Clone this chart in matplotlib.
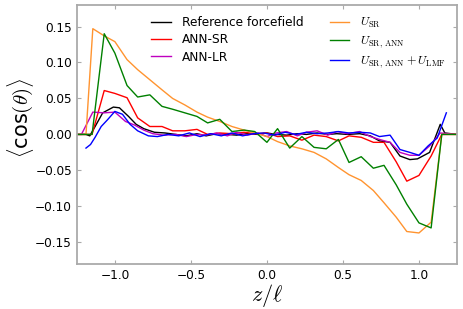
import numpy as np
import matplotlib
matplotlib.use('Agg')
import matplotlib.pyplot as plt

plt.rcParams['mathtext.fontset'] = 'cm'

# coarse grid used by orange / green / red curves
z_coarse = [-1.25, -1.15, -1.07, -1.0, -0.92, -0.85, -0.77, -0.69, -0.62, -0.54,
            -0.46, -0.39, -0.31, -0.23, -0.15, -0.08, 0.0, 0.07, 0.15, 0.23,
            0.31, 0.39, 0.47, 0.54, 0.62, 0.70, 0.77, 0.85, 0.92, 1.0,
            1.08, 1.15, 1.25]

ann_sr = [0, 0, 0.061, 0.057, 0.051, 0.023, 0.011, 0.011, 0.005, 0.005,
          0.007, 0.000, 0.002, 0.001, 0.003, 0.001, 0.002, -0.003, -0.002, -0.008,
          -0.001, -0.003, -0.009, -0.002, -0.004, -0.011, -0.011, -0.038, -0.065, -0.057,
          -0.030, 0, 0]

u_sr_ann = [0, 0, 0.140, 0.113, 0.068, 0.052, 0.055, 0.039, 0.035, 0.030,
            0.025, 0.016, 0.021, 0.004, 0.006, 0.004, -0.011, 0.008, -0.019, -0.003,
            -0.018, -0.020, -0.007, -0.039, -0.031, -0.047, -0.043, -0.070, -0.097, -0.123,
            -0.130, 0, 0]

z_usr = [-1.25, -1.19, -1.145, -1.07, -1.0, -0.92, -0.85, -0.77, -0.69, -0.62,
         -0.54, -0.46, -0.39, -0.31, -0.23, -0.15, -0.08, 0.0, 0.07, 0.15,
         0.23, 0.31, 0.39, 0.47, 0.54, 0.62, 0.70, 0.77, 0.85, 0.92,
         1.0, 1.08, 1.15, 1.25]
u_sr = [0, 0, 0.147, 0.137, 0.129, 0.104, 0.090, 0.076, 0.062, 0.050,
        0.041, 0.031, 0.024, 0.018, 0.011, 0.006, 0.002, -0.003, -0.010, -0.016,
        -0.020, -0.025, -0.034, -0.046, -0.056, -0.064, -0.078, -0.095, -0.115, -0.135,
        -0.137, -0.122, 0, 0]

# fine grid curves
z_ref = [-1.25, -1.19, -1.165, -1.13, -1.08, -1.01, -0.97, -0.91, -0.86, -0.81,
         -0.74, -0.67, -0.60, -0.53, -0.46, -0.40, -0.33, -0.26, -0.20, -0.13,
         -0.06, 0.0, 0.06, 0.13, 0.20, 0.26, 0.33, 0.40, 0.46, 0.53,
         0.61, 0.68, 0.74, 0.81, 0.875, 0.94, 0.99, 1.07, 1.14, 1.17, 1.25]
reference = [0, 0, -0.002, 0.011, 0.030, 0.038, 0.037, 0.025, 0.014, 0.008,
             0.003, 0.002, 0.000, -0.002, 0.001, -0.002, 0.001, 0.000, -0.001, 0.001,
             0.000, 0.002, 0.000, -0.001, 0.001, 0.000, 0.002, 0.000, 0.001, 0.000,
             0.001, -0.002, -0.009, -0.011, -0.030, -0.035, -0.034, -0.025, 0.014, 0.002, 0]

z_lr = [-1.25, -1.22, -1.145, -1.07, -1.0, -0.93, -0.87, -0.81, -0.75, -0.68,
        -0.60, -0.53, -0.46, -0.40, -0.33, -0.26, -0.20, -0.13, -0.06, 0.0,
        0.06, 0.13, 0.20, 0.26, 0.33, 0.40, 0.46, 0.53, 0.61, 0.68,
        0.74, 0.81, 0.875, 0.94, 1.0, 1.07, 1.14, 1.25]
ann_lr = [0, 0, 0.031, 0.030, 0.031, 0.018, 0.013, 0.006, 0.001, -0.001,
          0.000, -0.003, 0.000, -0.001, 0.002, -0.002, 0.003, -0.001, 0.002, -0.003,
          0.002, 0.004, -0.002, 0.003, 0.005, -0.001, 0.004, 0.001, 0.004, -0.003,
          -0.007, -0.011, -0.025, -0.029, -0.029, -0.016, 0.002, 0]

z_lmf = [-1.19, -1.16, -1.13, -1.09, -1.05, -1.0, -0.95, -0.90, -0.85, -0.78,
         -0.72, -0.65, -0.58, -0.51, -0.44, -0.37, -0.30, -0.23, -0.16, -0.09,
         -0.02, 0.05, 0.12, 0.19, 0.26, 0.33, 0.40, 0.47, 0.54, 0.61,
         0.68, 0.74, 0.81, 0.875, 0.94, 1.0, 1.06, 1.12, 1.18]
u_lmf = [-0.019, -0.014, -0.004, 0.011, 0.020, 0.032, 0.028, 0.014, 0.005, -0.002,
         -0.003, 0.000, -0.002, 0.002, -0.003, 0.001, -0.002, 0.002, -0.002, 0.001,
         0.002, -0.001, 0.003, 0.000, 0.003, 0.001, 0.002, 0.004, 0.002, 0.003,
         0.002, -0.003, -0.001, -0.021, -0.025, -0.029, -0.016, -0.005, 0.030]

fig, ax = plt.subplots(figsize=(4.63, 3.09), dpi=100)
fig.subplots_adjust(left=0.166, right=0.987, top=0.984, bottom=0.146)

lw = 1.0
ax.plot(z_ref, reference, color='k', lw=lw, label='Reference forcefield')
ax.plot(z_coarse, ann_sr, color='#ff0000', lw=lw, label='ANN-SR')
ax.plot(z_lr, ann_lr, color='#bf00bf', lw=lw, label='ANN-LR')
ax.plot(z_usr, u_sr, color='#ff9430', lw=lw, label=r'$U_{\rm SR}$')
ax.plot(z_coarse, u_sr_ann, color='#008000', lw=lw, label=r'$U_{\rm SR,\,ANN}$')
ax.plot(z_lmf, u_lmf, color='#0000ff', lw=lw, label=r'$U_{\rm SR,\,ANN}+U_{\rm LMF}$')

ax.set_xlim(-1.25, 1.25)
ax.set_ylim(-0.18, 0.18)
ax.set_xticks([-1.0, -0.5, 0.0, 0.5, 1.0])
ax.set_yticks([-0.15, -0.10, -0.05, 0.0, 0.05, 0.10, 0.15])
ax.tick_params(direction='in', top=True, right=True, labelsize=8.7,
               color='#aaaaaa', length=3)
for sp in ax.spines.values():
    sp.set_color('#aaaaaa')
    sp.set_linewidth(1.3)

ax.set_xlabel(r'$z/\ell$', fontsize=16, labelpad=0)
ax.set_ylabel(r'$\langle$cos$(\theta)\rangle$', fontsize=15)
ax.yaxis.set_label_coords(-0.108, 0.565)

ax.legend(ncol=2, frameon=False, fontsize=8.7, loc='upper right',
          bbox_to_anchor=(1.0, 1.0), handlelength=1.6, columnspacing=2.2,
          labelspacing=0.36, handletextpad=0.9)

fig.savefig('out.png', dpi=100)
